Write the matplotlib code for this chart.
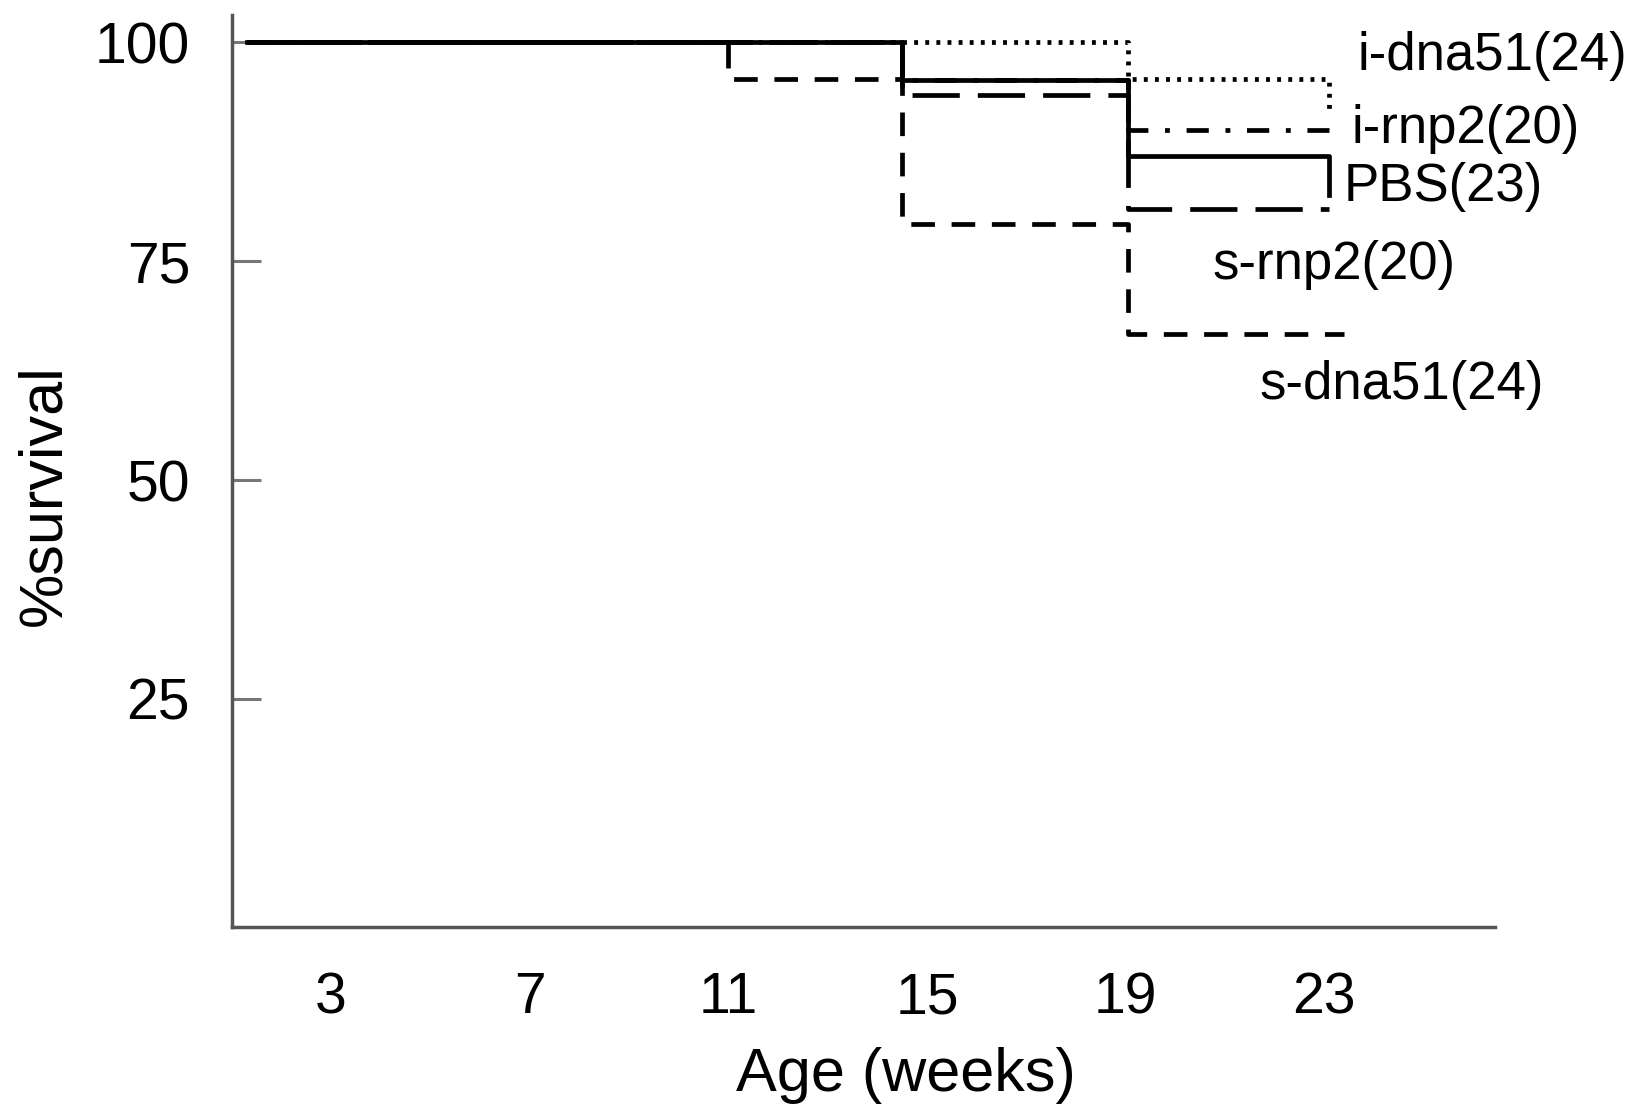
import matplotlib
matplotlib.use("Agg")
import matplotlib.pyplot as plt

plt.rcParams['font.family'] = ['Liberation Sans', 'DejaVu Sans']
plt.rcParams['lines.scale_dashes'] = False

# ---- data (weeks, % survival) ----
pbs_x = [1.3, 14.5, 19.05, 23.1]
pbs_y = [100, 95.7, 87.0, 82.6]

idna_x = [1.3, 19.05, 23.1]
idna_y = [100, 95.8, 91.7]

irnp_x = [1.3, 14.5, 19.05, 23.1]
irnp_y = [100, 95.7, 90.0, 90.0]

srnp_x = [1.3, 14.5, 19.05, 23.1]
srnp_y = [100, 94.0, 81.0, 81.0]

sdna_x = [1.3, 11.0, 14.5, 19.05, 23.4]
sdna_y = [100, 95.8, 79.2, 66.7, 66.7]

x_ticks = [3, 7, 11, 15, 19, 23]
y_ticks = [25, 50, 75, 100]

labels = ["i-dna51(24)", "i-rnp2(20)", "PBS(23)", "s-rnp2(20)", "s-dna51(24)"]
label_x = [23.68, 23.56, 23.40, 20.75, 21.70]
label_y = [98.4, 90.1, 83.5, 74.6, 60.8]

fig = plt.figure(figsize=(16.31, 11.13), dpi=100)
ax = fig.add_axes([0.1421, 0.1674, 0.9166 - 0.1421, 0.9865 - 0.1674])

lw = 3.4
ax.plot(idna_x, idna_y, drawstyle='steps-post', color='black', lw=lw,
        linestyle=(0, (2.8, 5.2)))
ax.plot(irnp_x, irnp_y, drawstyle='steps-post', color='black', lw=lw,
        linestyle=(0, (16, 12, 3.5, 12)))
ax.plot(srnp_x, srnp_y, drawstyle='steps-post', color='black', lw=lw,
        linestyle=(0, (34, 13)))
ax.plot(sdna_x, sdna_y, drawstyle='steps-post', color='black', lw=lw,
        linestyle=(0, (17, 12)))
ax.plot(pbs_x, pbs_y, drawstyle='steps-post', color='black', lw=lw,
        linestyle='-')

for t, x, y in zip(labels, label_x, label_y):
    ax.text(x, y, t, fontsize=38, ha='left', va='center', color='black')

ax.set_xlim(1.0, 26.44)
ax.set_ylim(-1.0, 103.1)

ax.set_xticks(x_ticks)
ax.set_xticklabels([str(v) for v in x_ticks])
ax.set_yticks(y_ticks)
ax.set_yticklabels([str(v) for v in y_ticks])

for s in ['top', 'right']:
    ax.spines[s].set_visible(False)
for s in ['left', 'bottom']:
    ax.spines[s].set_color('#555555')
    ax.spines[s].set_linewidth(2.5)

ax.tick_params(axis='y', direction='in', length=21, width=2.2, color='#777777',
               labelsize=41, pad=30)
ax.tick_params(axis='x', length=0, labelsize=41, pad=32)

ax.set_xlabel('Age (weeks)', fontsize=44, va='center')
ax.xaxis.set_label_coords(0.534, -0.163)
ax.set_ylabel('%survival', fontsize=44, va='center', ha='center')
ax.yaxis.set_label_coords(-0.148, 0.4735)

fig.savefig('out.png', dpi=100)
